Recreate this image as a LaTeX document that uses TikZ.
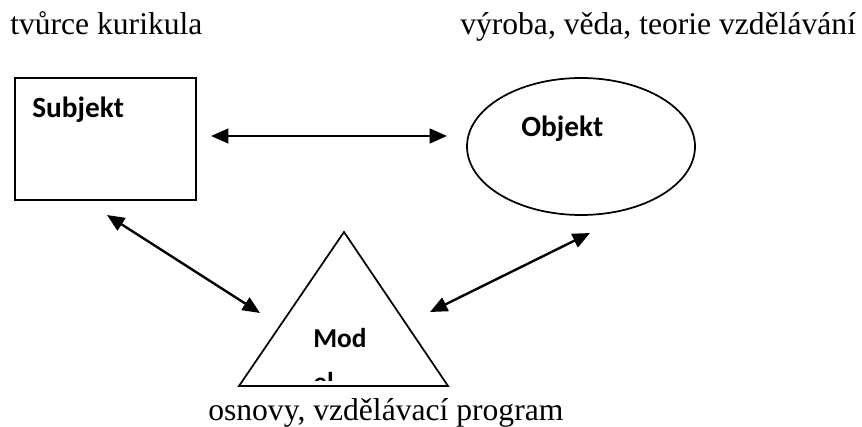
\documentclass[tikz,border=0pt]{standalone}
\usepackage{fontspec}
\setmainfont{Liberation Serif}
\newfontfamily\carlito{Carlito}
\usetikzlibrary{arrows.meta,shapes.geometric}
\tikzset{
  serif/.style={inner sep=0pt, anchor=base west, font=\fontsize{23.7}{28}\selectfont},
  boldlbl/.style={inner sep=0pt, anchor=base west, font=\carlito\bfseries\fontsize{22}{26}\selectfont},
  shapeline/.style={draw=black, line width=1.3pt},
  link/.style={line width=1.8pt, {Triangle[length=13pt,width=11pt]}-{Triangle[length=13pt,width=11pt]}}
}
\begin{document}
\begin{tikzpicture}[x=0.75pt,y=-0.75pt]
\useasboundingbox (0,0) rectangle (862,427);
% top labels
\node[serif] (tl) at (10,35) {tvůrce kurikula};
\node[serif] (tr) at (460,35) {výroba, věda, teorie vzdělávání};
% subject box
\node[shapeline, rectangle, minimum width=135.75pt, minimum height=91.5pt, inner sep=0pt] (subj) at (105.5,139) {};
\node[boldlbl] (subjt) at (32,118) {Subjekt};
% object ellipse
\node[shapeline, ellipse, minimum width=171pt, minimum height=102.75pt, inner sep=0pt] (obj) at (581,146.5) {};
\node[boldlbl] (objt) at (521,137) {Objekt};
% model triangle
\coordinate (ta) at (344,232);
\coordinate (tb) at (239,386);
\coordinate (tc) at (448,386);
\draw[shapeline, line join=miter] (ta) -- (tb) -- (tc) -- cycle;
\node[boldlbl, font=\carlito\bfseries\fontsize{20.5}{24}\selectfont] (modt) at (313,347) {Mod};
\begin{scope}
\clip (280,300) rectangle (420,380);
\node[boldlbl, font=\carlito\bfseries\fontsize{20.5}{24}\selectfont] (elt) at (313,391) {el};
\end{scope}
% bottom label
\node[serif] (bl) at (208,420.5) {osnovy, vzdělávací program};
% arrow end points
\coordinate (h1) at (211,136);
\coordinate (h2) at (447,136);
\coordinate (l1) at (107,215);
\coordinate (l2) at (260,313);
\coordinate (r1) at (590,233);
\coordinate (r2) at (430,312);
\draw[link] (h1) -- (h2);
\draw[link] (l1) -- (l2);
\draw[link] (r1) -- (r2);
\end{tikzpicture}
\end{document}
